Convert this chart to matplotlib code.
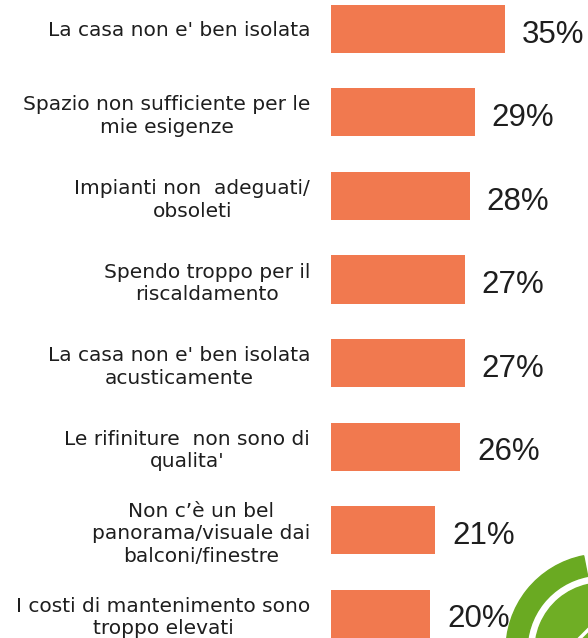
import matplotlib
matplotlib.use("Agg")
import matplotlib.pyplot as plt
from matplotlib.patches import Wedge

categories = [
    "La casa non e' ben isolata",
    "Spazio non sufficiente per le\nmie esigenze",
    "Impianti non  adeguati/\nobsoleti",
    "Spendo troppo per il\nriscaldamento",
    "La casa non e' ben isolata\nacusticamente",
    "Le rifiniture  non sono di\nqualita'",
    "Non c\u2019\u00e8 un bel\npanorama/visuale dai\nbalconi/finestre",
    "I costi di mantenimento sono\ntroppo elevati",
]
values = [35, 29, 28, 27, 27, 26, 21, 20]

bar_color = "#F1794F"
text_color = "#1E1E1E"

W, H = 588, 638
fig = plt.figure(figsize=(W / 100, H / 100), dpi=100)

# bar area: x from pixel 331 to the right edge, full height
ax = fig.add_axes([331 / W, 0, (W - 331) / W, 1])
pos = list(range(len(values)))
ax.barh(pos, values, height=0.575, color=bar_color)
ax.set_xlim(0, (W - 331) / 4.97)
ax.set_ylim(7.293, -0.347)

for p, v in zip(pos, values):
    ax.annotate(f"{v}%", (v, p), xytext=(12, -4), textcoords="offset points",
                ha="left", va="center", fontsize=22.5, color=text_color,
                family="Liberation Sans")

ax.set_yticks(pos)
ax.set_yticklabels(categories, fontsize=14.5, color=text_color,
                   multialignment="center", family="DejaVu Sans",
                   linespacing=1.25)
ax.tick_params(axis="y", length=0, pad=15)
ax.set_xticks([])
for s in ax.spines.values():
    s.set_visible(False)
ax.patch.set_alpha(0)

# green logo in the lower right corner
lg = fig.add_axes([0, 0, 1, 1], zorder=5)
lg.set_xlim(0, W)
lg.set_ylim(H, 0)
lg.axis("off")
lg.patch.set_alpha(0)
cx, cy = 602, 650
lg.add_patch(Wedge((cx, cy), 96, 178, 259, width=21, color="#6AAA22"))
lg.add_patch(Wedge((cx, cy), 67, 175, 285, width=67, color="#6FAE25"))
lg.plot([578, 592], [640, 626], color="white", lw=2.5, solid_capstyle="round")

fig.savefig("out.png", dpi=100)
